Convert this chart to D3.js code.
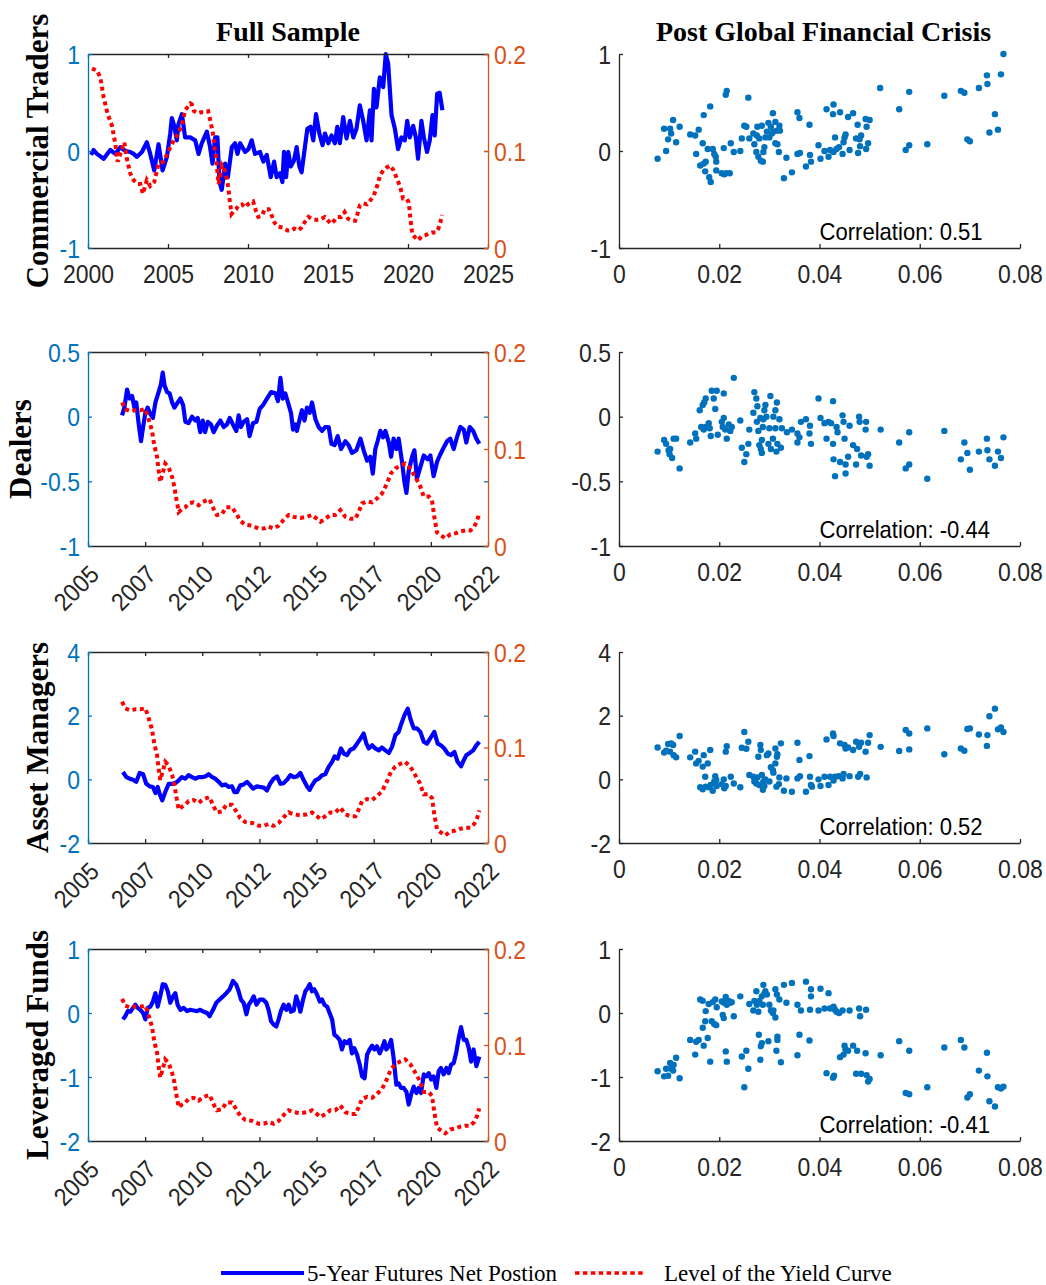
<!DOCTYPE html>
<html><head><meta charset="utf-8">
<script src="https://cdn.jsdelivr.net/npm/d3@7"></script>
<style>body{margin:0;background:#fff;} svg{display:block;}</style>
</head><body>
<svg id="chart" width="1046" height="1285"></svg>
<script>
// ---------------- DATA ----------------
const panelTitles = ["Full Sample", "Post Global Financial Crisis"];
const rowNames = ["Commercial Traders", "Dealers", "Asset Managers", "Leveraged Funds"];
const correlations = ["0.51", "-0.44", "0.52", "-0.41"];
const legendLabels = ["5-Year Futures Net Postion", "Level of the Yield Curve"];

const leftTicksCT = [-1, 0, 1];
const leftTicksDealers = [-1, -0.5, 0, 0.5];
const leftTicksAM = [-2, 0, 2, 4];
const leftTicksLF = [-2, -1, 0, 1];
const rightTicks = [0, 0.1, 0.2];
const scatterXTicks = [0, 0.02, 0.04, 0.06, 0.08];
const fullYearTicks = [2000, 2005, 2010, 2015, 2020, 2025];
const tffYearTicks = [2005, 2007.5, 2010, 2012.5, 2015, 2017.5, 2020, 2022.5];

// [decimal year, net position]
const commercialNet = [[2000.19,-0.04],[2000.35,0.01],[2000.56,-0.03],[2000.98,-0.08],[2001.39,0.01],[2001.71,-0.03],[2002.02,0.04],[2002.33,0.0],[2002.64,-0.01],[2002.85,-0.03],[2003.06,-0.06],[2003.37,-0.01],[2003.68,0.09],[2003.89,-0.03],[2004.14,-0.2],[2004.41,0.07],[2004.66,-0.2],[2004.93,-0.06],[2005.14,0.18],[2005.24,0.34],[2005.39,0.26],[2005.55,0.11],[2005.66,0.28],[2005.87,0.38],[2006.07,0.14],[2006.39,0.14],[2006.70,0.11],[2006.91,-0.03],[2007.11,0.08],[2007.43,0.2],[2007.63,0.04],[2007.78,-0.13],[2007.95,0.14],[2008.09,0.14],[2008.22,-0.32],[2008.36,-0.4],[2008.57,-0.13],[2008.74,-0.27],[2008.99,0.04],[2009.19,0.08],[2009.34,-0.03],[2009.51,0.08],[2009.82,-0.01],[2010.03,0.02],[2010.23,0.11],[2010.44,-0.03],[2010.75,-0.01],[2010.96,-0.11],[2011.17,-0.04],[2011.42,-0.27],[2011.63,-0.11],[2011.79,-0.27],[2012.00,-0.23],[2012.15,-0.32],[2012.25,-0.01],[2012.38,-0.27],[2012.52,-0.01],[2012.67,-0.16],[2012.87,-0.1],[2013.04,0.04],[2013.21,-0.16],[2013.35,-0.22],[2013.50,-0.03],[2013.71,0.23],[2013.91,0.25],[2014.08,0.11],[2014.25,0.38],[2014.46,0.18],[2014.66,0.06],[2014.81,0.18],[2015.02,0.08],[2015.22,0.16],[2015.43,0.08],[2015.58,0.25],[2015.74,0.08],[2015.95,0.35],[2016.16,0.13],[2016.37,0.31],[2016.58,0.14],[2016.78,0.23],[2016.99,0.47],[2017.20,0.31],[2017.41,0.11],[2017.62,0.42],[2017.72,0.11],[2017.87,0.64],[2018.03,0.45],[2018.24,0.76],[2018.45,0.66],[2018.61,1.0],[2018.76,0.9],[2018.97,0.37],[2019.18,0.23],[2019.38,0.02],[2019.59,0.14],[2019.80,0.11],[2019.95,0.31],[2020.11,0.14],[2020.32,0.26],[2020.49,0.14],[2020.63,-0.08],[2020.84,0.31],[2020.99,0.14],[2021.19,-0.01],[2021.36,0.11],[2021.53,0.37],[2021.67,0.16],[2021.82,0.59],[2021.98,0.6],[2022.15,0.42]];

const dealersNet = [[2006.49,0.01],[2006.59,0.07],[2006.71,0.21],[2006.82,0.14],[2006.93,0.16],[2007.03,0.07],[2007.11,0.11],[2007.22,-0.06],[2007.32,-0.19],[2007.41,-0.08],[2007.51,0.03],[2007.61,0.07],[2007.73,0.02],[2007.84,-0.01],[2007.95,0.11],[2008.09,0.19],[2008.19,0.25],[2008.27,0.34],[2008.35,0.24],[2008.46,0.19],[2008.57,0.18],[2008.68,0.11],[2008.78,0.07],[2008.89,0.1],[2009.04,0.14],[2009.16,0.09],[2009.26,-0.04],[2009.40,-0.05],[2009.55,0.0],[2009.70,-0.03],[2009.80,-0.01],[2009.91,-0.12],[2010.02,-0.03],[2010.12,-0.12],[2010.24,-0.04],[2010.38,-0.06],[2010.50,-0.12],[2010.64,-0.07],[2010.79,-0.03],[2010.94,-0.08],[2011.08,-0.06],[2011.20,-0.01],[2011.34,-0.06],[2011.49,-0.11],[2011.59,0.01],[2011.69,-0.08],[2011.81,-0.04],[2011.96,-0.02],[2012.07,-0.15],[2012.22,-0.05],[2012.37,-0.04],[2012.51,0.06],[2012.66,0.09],[2012.83,0.14],[2013.01,0.19],[2013.20,0.18],[2013.31,0.12],[2013.42,0.3],[2013.52,0.14],[2013.63,0.18],[2013.78,0.09],[2013.88,0.03],[2013.97,-0.1],[2014.07,-0.06],[2014.14,-0.11],[2014.26,-0.02],[2014.36,0.05],[2014.47,-0.03],[2014.58,0.07],[2014.70,0.03],[2014.80,0.11],[2014.95,-0.02],[2015.09,-0.08],[2015.24,-0.11],[2015.38,-0.08],[2015.53,-0.08],[2015.65,-0.21],[2015.79,-0.22],[2015.92,-0.15],[2016.07,-0.25],[2016.26,-0.19],[2016.40,-0.22],[2016.55,-0.28],[2016.74,-0.26],[2016.92,-0.17],[2017.06,-0.26],[2017.21,-0.34],[2017.35,-0.31],[2017.46,-0.44],[2017.57,-0.25],[2017.67,-0.19],[2017.79,-0.11],[2017.91,-0.16],[2018.01,-0.11],[2018.16,-0.2],[2018.26,-0.31],[2018.37,-0.17],[2018.49,-0.25],[2018.59,-0.17],[2018.74,-0.35],[2018.84,-0.5],[2018.93,-0.59],[2019.03,-0.42],[2019.18,-0.31],[2019.28,-0.26],[2019.39,-0.48],[2019.54,-0.39],[2019.69,-0.3],[2019.86,-0.33],[2019.98,-0.3],[2020.12,-0.46],[2020.27,-0.35],[2020.39,-0.3],[2020.53,-0.25],[2020.71,-0.19],[2020.85,-0.17],[2021.00,-0.25],[2021.14,-0.16],[2021.29,-0.08],[2021.44,-0.1],[2021.55,-0.2],[2021.70,-0.08],[2021.85,-0.11],[2021.99,-0.17],[2022.12,-0.21]];

const assetMgrNet = [[2006.53,0.23],[2006.68,0.07],[2006.82,0.02],[2006.97,-0.01],[2007.11,-0.08],[2007.26,0.2],[2007.41,0.16],[2007.55,-0.14],[2007.70,-0.22],[2007.84,-0.24],[2007.95,-0.43],[2008.05,-0.24],[2008.14,-0.47],[2008.25,-0.66],[2008.38,-0.4],[2008.53,-0.14],[2008.68,-0.14],[2008.82,-0.12],[2008.97,-0.03],[2009.11,0.07],[2009.26,0.02],[2009.40,0.13],[2009.55,0.07],[2009.70,0.02],[2009.84,0.07],[2009.99,0.07],[2010.13,0.09],[2010.28,0.16],[2010.43,0.07],[2010.57,0.02],[2010.72,-0.08],[2010.86,-0.19],[2011.01,-0.16],[2011.15,-0.24],[2011.30,-0.22],[2011.40,-0.4],[2011.52,-0.4],[2011.66,-0.19],[2011.81,-0.16],[2011.96,-0.08],[2012.10,-0.19],[2012.22,-0.29],[2012.39,-0.22],[2012.54,-0.24],[2012.69,-0.26],[2012.83,-0.35],[2012.98,-0.12],[2013.12,0.02],[2013.27,0.09],[2013.42,-0.14],[2013.56,-0.12],[2013.71,-0.01],[2013.85,0.13],[2014.00,0.07],[2014.14,0.09],[2014.29,0.2],[2014.44,-0.03],[2014.58,-0.22],[2014.70,-0.33],[2014.80,-0.19],[2014.95,-0.03],[2015.09,0.02],[2015.24,0.13],[2015.38,0.16],[2015.53,0.39],[2015.68,0.55],[2015.79,0.72],[2015.92,0.65],[2016.07,0.97],[2016.19,0.81],[2016.33,0.76],[2016.48,0.93],[2016.62,0.97],[2016.77,1.12],[2016.92,1.28],[2017.06,1.44],[2017.18,1.12],[2017.28,0.97],[2017.43,1.07],[2017.57,0.97],[2017.72,0.91],[2017.86,1.0],[2018.01,0.91],[2018.16,0.83],[2018.30,1.02],[2018.45,1.39],[2018.59,1.49],[2018.71,1.75],[2018.84,2.01],[2018.99,2.22],[2019.10,1.91],[2019.25,1.6],[2019.39,1.6],[2019.54,1.49],[2019.69,1.18],[2019.83,1.12],[2020.01,1.33],[2020.15,1.49],[2020.30,1.12],[2020.44,1.07],[2020.59,0.97],[2020.74,0.81],[2020.88,0.76],[2021.03,0.86],[2021.17,0.55],[2021.32,0.41],[2021.44,0.6],[2021.55,0.76],[2021.70,0.83],[2021.85,0.91],[2021.99,1.07],[2022.12,1.18]];

const levFundsNet = [[2006.53,-0.1],[2006.63,-0.05],[2006.74,0.03],[2006.85,0.02],[2006.97,0.08],[2007.07,0.13],[2007.17,0.08],[2007.29,0.05],[2007.41,0.0],[2007.51,-0.1],[2007.61,0.08],[2007.73,0.1],[2007.84,0.18],[2007.95,0.31],[2008.05,0.1],[2008.16,0.26],[2008.27,0.45],[2008.38,0.44],[2008.49,0.34],[2008.60,0.16],[2008.72,0.26],[2008.82,0.31],[2008.92,0.13],[2009.04,0.05],[2009.19,0.08],[2009.33,0.03],[2009.48,0.05],[2009.62,0.04],[2009.77,0.03],[2009.91,0.05],[2010.06,0.02],[2010.21,0.0],[2010.32,-0.05],[2010.47,0.05],[2010.61,0.16],[2010.76,0.21],[2010.91,0.26],[2011.05,0.31],[2011.20,0.37],[2011.34,0.5],[2011.49,0.44],[2011.59,0.34],[2011.69,0.21],[2011.81,0.16],[2011.93,-0.02],[2012.03,0.13],[2012.13,0.18],[2012.25,0.26],[2012.37,0.13],[2012.51,0.21],[2012.66,0.21],[2012.80,0.16],[2012.90,0.05],[2013.01,-0.13],[2013.12,-0.18],[2013.24,-0.21],[2013.34,-0.1],[2013.44,0.03],[2013.56,0.13],[2013.68,0.05],[2013.78,0.13],[2013.88,0.02],[2014.00,0.04],[2014.11,0.26],[2014.22,0.13],[2014.29,0.02],[2014.41,0.21],[2014.51,0.34],[2014.61,0.39],[2014.70,0.45],[2014.80,0.34],[2014.90,0.37],[2015.02,0.29],[2015.14,0.18],[2015.24,0.21],[2015.34,0.13],[2015.46,0.1],[2015.57,0.0],[2015.68,-0.1],[2015.78,-0.34],[2015.89,-0.37],[2016.01,-0.42],[2016.11,-0.57],[2016.22,-0.44],[2016.33,-0.47],[2016.45,-0.42],[2016.55,-0.63],[2016.65,-0.55],[2016.77,-0.65],[2016.89,-0.81],[2016.99,-0.99],[2017.10,-1.02],[2017.21,-0.65],[2017.32,-0.57],[2017.43,-0.51],[2017.53,-0.57],[2017.64,-0.52],[2017.76,-0.63],[2017.86,-0.55],[2017.97,-0.44],[2018.05,-0.57],[2018.16,-0.52],[2018.26,-0.42],[2018.37,-0.7],[2018.49,-1.12],[2018.59,-1.1],[2018.69,-1.17],[2018.81,-1.17],[2018.93,-1.23],[2019.03,-1.43],[2019.13,-1.28],[2019.25,-1.15],[2019.37,-1.25],[2019.47,-1.17],[2019.57,-1.25],[2019.69,-0.96],[2019.80,-0.99],[2019.91,-0.94],[2020.01,-1.04],[2020.12,-0.99],[2020.24,-1.17],[2020.34,-0.91],[2020.44,-0.86],[2020.56,-0.96],[2020.68,-0.86],[2020.78,-0.94],[2020.88,-0.81],[2021.00,-0.78],[2021.12,-0.6],[2021.22,-0.39],[2021.32,-0.22],[2021.44,-0.42],[2021.55,-0.42],[2021.66,-0.55],[2021.76,-0.76],[2021.87,-0.57],[2021.99,-0.83],[2022.12,-0.68]];

// [decimal year, level of the yield curve]
const yieldLevel = [[2000.25,0.185],[2000.56,0.183],[2000.77,0.176],[2000.98,0.155],[2001.23,0.138],[2001.50,0.126],[2001.71,0.107],[2001.85,0.089],[2002.06,0.099],[2002.27,0.109],[2002.43,0.092],[2002.64,0.077],[2002.85,0.07],[2003.10,0.066],[2003.27,0.066],[2003.43,0.056],[2003.68,0.07],[2003.89,0.064],[2004.14,0.068],[2004.41,0.087],[2004.72,0.089],[2005.03,0.1],[2005.30,0.109],[2005.55,0.116],[2005.87,0.126],[2006.07,0.142],[2006.39,0.149],[2006.49,0.148],[2006.63,0.141],[2006.85,0.139],[2007.07,0.14],[2007.29,0.14],[2007.51,0.141],[2007.65,0.131],[2007.80,0.119],[2007.90,0.104],[2008.02,0.092],[2008.09,0.078],[2008.16,0.066],[2008.27,0.075],[2008.38,0.085],[2008.53,0.081],[2008.68,0.071],[2008.78,0.061],[2008.86,0.049],[2008.97,0.035],[2009.11,0.038],[2009.26,0.04],[2009.40,0.044],[2009.62,0.045],[2009.84,0.042],[2009.99,0.045],[2010.18,0.047],[2010.32,0.048],[2010.50,0.038],[2010.64,0.032],[2010.86,0.033],[2011.05,0.04],[2011.30,0.04],[2011.52,0.032],[2011.66,0.026],[2011.88,0.022],[2012.18,0.021],[2012.47,0.018],[2012.69,0.018],[2012.90,0.02],[2013.12,0.018],[2013.34,0.021],[2013.56,0.027],[2013.78,0.032],[2014.00,0.03],[2014.29,0.029],[2014.58,0.03],[2014.80,0.032],[2015.02,0.028],[2015.17,0.025],[2015.38,0.028],[2015.60,0.032],[2015.82,0.032],[2016.04,0.037],[2016.26,0.03],[2016.48,0.028],[2016.70,0.028],[2016.84,0.035],[2016.99,0.044],[2017.21,0.046],[2017.43,0.045],[2017.64,0.049],[2017.86,0.054],[2018.05,0.063],[2018.26,0.075],[2018.45,0.08],[2018.67,0.083],[2018.88,0.085],[2019.10,0.08],[2019.32,0.071],[2019.51,0.063],[2019.69,0.051],[2019.91,0.051],[2020.05,0.047],[2020.15,0.03],[2020.27,0.014],[2020.44,0.011],[2020.63,0.008],[2020.85,0.012],[2021.07,0.013],[2021.29,0.015],[2021.51,0.016],[2021.73,0.016],[2021.90,0.02],[2022.02,0.026],[2022.12,0.034]];

// post-GFC scatter: [yield level, net position]
const commercialScatter = [[0.0077,-0.08],[0.0094,0.0],[0.009,0.23],[0.0102,0.23],[0.0108,0.32],[0.0098,0.12],[0.0104,0.18],[0.0114,0.09],[0.0121,0.25],[0.0142,0.17],[0.0152,0.16],[0.0154,-0.03],[0.0159,0.22],[0.0169,0.37],[0.0167,0.08],[0.0182,0.46],[0.0162,-0.15],[0.0169,-0.13],[0.0173,-0.11],[0.0172,-0.21],[0.0177,0.02],[0.018,-0.27],[0.0183,-0.32],[0.0187,0.02],[0.019,-0.03],[0.0193,-0.06],[0.0194,-0.11],[0.0194,-0.2],[0.0209,0.03],[0.0205,-0.23],[0.021,-0.24],[0.0214,-0.23],[0.0221,-0.23],[0.0213,0.58],[0.0215,0.62],[0.0223,0.08],[0.0229,-0.01],[0.0242,0.0],[0.0245,0.13],[0.025,0.26],[0.0254,0.25],[0.0258,0.55],[0.026,0.13],[0.0268,0.18],[0.027,0.07],[0.0274,-0.01],[0.0275,0.16],[0.0276,0.25],[0.0278,-0.06],[0.028,0.13],[0.0283,-0.1],[0.0285,0.26],[0.0287,-0.11],[0.0288,-0.01],[0.029,0.04],[0.0292,0.14],[0.0295,0.2],[0.0298,0.29],[0.03,0.14],[0.0303,0.25],[0.0305,0.18],[0.0307,0.39],[0.0308,0.2],[0.0312,0.3],[0.0312,0.08],[0.0316,0.07],[0.0315,0.21],[0.0319,-0.01],[0.032,0.26],[0.0321,0.21],[0.0329,-0.28],[0.0334,-0.07],[0.0345,-0.22],[0.0356,0.4],[0.036,0.34],[0.0356,-0.03],[0.0361,-0.02],[0.0373,-0.16],[0.038,0.27],[0.0381,-0.04],[0.0383,-0.11],[0.0398,0.06],[0.0402,-0.08],[0.041,0.0],[0.0414,0.43],[0.0418,-0.06],[0.0421,0.01],[0.0427,0.38],[0.0428,0.48],[0.0428,-0.01],[0.0431,0.14],[0.0434,0.02],[0.0439,0.04],[0.0441,0.4],[0.0446,-0.03],[0.0448,0.09],[0.045,0.14],[0.0452,0.17],[0.0457,0.35],[0.046,0.01],[0.0467,0.39],[0.0473,0.13],[0.0476,0.27],[0.0477,-0.02],[0.048,0.12],[0.0481,0.05],[0.0483,0.16],[0.0492,0.33],[0.0494,0.25],[0.0493,0.02],[0.0497,0.08],[0.05,0.32],[0.0521,0.65],[0.0559,0.43],[0.0572,0.01],[0.0579,0.06],[0.0579,0.61],[0.0615,0.07],[0.0649,0.57],[0.0682,0.62],[0.0689,0.6],[0.0695,0.12],[0.07,0.1],[0.0718,0.65],[0.0734,0.78],[0.0735,0.69],[0.0739,0.19],[0.075,0.38],[0.0756,0.22],[0.0762,0.79],[0.0767,1.0]];

const dealersScatter = [[0.0077,-0.27],[0.009,-0.18],[0.0094,-0.21],[0.0099,-0.26],[0.0102,-0.25],[0.0101,-0.29],[0.0106,-0.32],[0.0109,-0.17],[0.0114,-0.17],[0.0121,-0.40],[0.0142,-0.20],[0.0152,-0.13],[0.0154,-0.17],[0.0161,0.05],[0.0164,-0.08],[0.0167,0.09],[0.017,0.11],[0.0173,0.14],[0.0169,-0.10],[0.0173,-0.08],[0.0179,-0.05],[0.0181,-0.09],[0.0183,-0.15],[0.0185,0.20],[0.0189,0.14],[0.0192,0.06],[0.0195,0.20],[0.0197,-0.14],[0.0205,-0.04],[0.0209,-0.01],[0.0209,0.18],[0.0207,-0.08],[0.0212,-0.10],[0.0215,-0.17],[0.0219,-0.06],[0.0222,-0.11],[0.0225,-0.08],[0.0229,0.30],[0.0242,-0.03],[0.0245,-0.24],[0.025,-0.35],[0.0254,-0.29],[0.0258,-0.21],[0.026,-0.10],[0.0268,0.03],[0.027,0.19],[0.0274,0.14],[0.0275,-0.04],[0.0276,0.08],[0.0278,-0.11],[0.028,-0.22],[0.0282,-0.01],[0.0283,-0.25],[0.0285,-0.18],[0.0285,-0.28],[0.0287,-0.08],[0.0288,-0.02],[0.029,0.05],[0.0292,0.09],[0.0294,0.0],[0.0298,-0.21],[0.03,-0.09],[0.0302,0.16],[0.0303,-0.25],[0.0307,-0.17],[0.0308,0.0],[0.0312,0.05],[0.0312,-0.09],[0.0314,-0.27],[0.0315,0.11],[0.0316,-0.21],[0.032,-0.02],[0.0323,-0.24],[0.0325,-0.09],[0.0335,-0.12],[0.0345,-0.10],[0.0356,-0.13],[0.0356,-0.20],[0.036,-0.16],[0.0363,-0.04],[0.0373,-0.02],[0.038,-0.13],[0.0381,-0.07],[0.0383,-0.21],[0.0398,0.14],[0.0402,-0.01],[0.041,-0.05],[0.0414,-0.17],[0.0418,-0.04],[0.0423,-0.05],[0.0427,0.12],[0.0427,-0.21],[0.0428,-0.33],[0.0431,-0.46],[0.0434,-0.08],[0.0436,-0.12],[0.0441,-0.35],[0.0446,0.01],[0.0448,-0.04],[0.045,-0.17],[0.0452,-0.37],[0.0452,-0.44],[0.0457,-0.31],[0.046,-0.07],[0.0467,-0.22],[0.0473,-0.37],[0.0475,-0.25],[0.0479,0.0],[0.048,-0.04],[0.0483,-0.30],[0.0492,-0.10],[0.0493,-0.04],[0.0494,-0.31],[0.0497,-0.29],[0.05,-0.38],[0.0522,-0.10],[0.0559,-0.20],[0.0572,-0.40],[0.0579,-0.12],[0.0579,-0.37],[0.0615,-0.48],[0.0649,-0.11],[0.0682,-0.33],[0.0689,-0.20],[0.0695,-0.28],[0.07,-0.41],[0.0718,-0.27],[0.0734,-0.17],[0.0735,-0.26],[0.0739,-0.33],[0.075,-0.38],[0.0756,-0.27],[0.0762,-0.32],[0.0767,-0.16]];

const assetMgrScatter = [[0.0077,1.0],[0.009,0.84],[0.0094,0.9],[0.0098,1.11],[0.0104,1.13],[0.0108,1.08],[0.0102,0.87],[0.0109,0.76],[0.0114,0.69],[0.0121,1.36],[0.0142,0.69],[0.0152,0.87],[0.0154,0.5],[0.0159,0.58],[0.0169,0.76],[0.0167,0.4],[0.0177,0.5],[0.0182,0.92],[0.0162,-0.25],[0.0167,-0.31],[0.0172,0.08],[0.0173,-0.23],[0.0179,-0.25],[0.0183,-0.18],[0.0187,-0.36],[0.019,-0.07],[0.0192,0.1],[0.0194,-0.02],[0.0195,-0.21],[0.0205,-0.15],[0.0209,0.0],[0.021,-0.28],[0.0213,-0.21],[0.0213,0.87],[0.0215,1.04],[0.0223,0.08],[0.0229,-0.13],[0.0242,-0.25],[0.0245,0.99],[0.025,1.49],[0.0254,0.96],[0.0258,1.18],[0.026,0.14],[0.0268,0.08],[0.027,-0.07],[0.0274,-0.13],[0.0276,0.06],[0.0278,0.71],[0.028,-0.18],[0.0282,1.08],[0.0283,0.92],[0.0285,0.14],[0.0287,-0.33],[0.0288,-0.07],[0.029,-0.21],[0.0292,0.0],[0.0295,0.76],[0.0298,0.81],[0.03,-0.07],[0.0303,0.38],[0.0307,0.29],[0.0308,0.21],[0.0312,0.5],[0.0312,0.97],[0.0315,0.71],[0.0316,0.79],[0.0314,-0.23],[0.0319,-0.15],[0.032,0.06],[0.0323,1.13],[0.0329,-0.36],[0.0334,0.03],[0.0345,-0.39],[0.0356,1.15],[0.036,0.61],[0.0356,0.03],[0.0361,0.1],[0.0373,-0.39],[0.038,0.73],[0.0381,0.08],[0.0383,-0.18],[0.0385,-0.23],[0.0398,0.0],[0.0402,-0.21],[0.041,0.08],[0.0414,1.25],[0.0418,-0.18],[0.0421,0.08],[0.0427,1.44],[0.0428,1.36],[0.0428,-0.04],[0.0431,0.08],[0.0438,0.1],[0.0441,1.13],[0.0446,0.03],[0.0448,0.17],[0.045,1.08],[0.0452,0.97],[0.0457,1.0],[0.046,0.1],[0.0467,0.92],[0.0473,1.18],[0.0477,0.08],[0.0479,1.02],[0.0481,0.17],[0.0483,1.15],[0.0492,0.87],[0.0494,0.06],[0.0497,1.15],[0.05,1.39],[0.0522,1.02],[0.0559,0.89],[0.0572,1.55],[0.0579,1.44],[0.0579,0.94],[0.0615,1.6],[0.0649,0.79],[0.0682,0.97],[0.0689,0.9],[0.0695,1.58],[0.07,1.6],[0.0718,1.41],[0.0734,1.05],[0.0735,1.39],[0.0739,1.98],[0.075,2.22],[0.0756,1.57],[0.0762,1.63],[0.0767,1.49]];

const levFundsScatter = [[0.0077,-0.91],[0.009,-0.99],[0.0094,-0.87],[0.0098,-0.98],[0.0102,-0.78],[0.0104,-0.87],[0.0106,-0.83],[0.0109,-0.81],[0.0108,-0.9],[0.0114,-0.7],[0.0121,-1.02],[0.0142,-0.42],[0.0152,-0.65],[0.0154,-0.45],[0.0159,-0.42],[0.0162,0.21],[0.0167,0.19],[0.0169,-0.51],[0.0167,-0.23],[0.0172,-0.13],[0.0173,0.03],[0.0177,-0.39],[0.0179,0.14],[0.0182,-0.76],[0.0185,-0.13],[0.0187,0.17],[0.019,-0.17],[0.0192,0.21],[0.0194,-0.19],[0.0195,0.09],[0.0205,0.18],[0.0207,-0.03],[0.0209,-0.08],[0.021,0.16],[0.0213,-0.6],[0.0213,0.25],[0.0215,-0.76],[0.0215,0.13],[0.0219,0.19],[0.0222,0.16],[0.0225,0.17],[0.0229,-0.05],[0.0242,0.26],[0.0245,-0.68],[0.025,-1.16],[0.0254,-0.59],[0.0258,-0.87],[0.026,0.14],[0.0268,0.04],[0.027,0.19],[0.0274,0.34],[0.0275,0.13],[0.0278,0.02],[0.0279,-0.34],[0.028,0.19],[0.0282,-0.73],[0.0283,-0.52],[0.0285,-0.47],[0.0285,0.26],[0.0287,0.13],[0.0288,0.44],[0.029,0.3],[0.0292,0.34],[0.0295,0.29],[0.0298,-0.44],[0.03,0.13],[0.0303,0.04],[0.0307,0.0],[0.0308,0.04],[0.0312,-0.07],[0.0312,0.37],[0.0314,-0.59],[0.0315,0.29],[0.0316,-0.42],[0.0316,-0.37],[0.032,0.21],[0.0323,-0.77],[0.0329,0.44],[0.0334,0.16],[0.0345,0.47],[0.0356,0.13],[0.0356,-0.66],[0.036,-0.34],[0.0363,0.04],[0.0373,0.49],[0.038,-0.43],[0.0381,0.05],[0.0383,0.37],[0.0383,0.26],[0.0398,0.04],[0.0402,0.38],[0.041,0.07],[0.0414,-0.94],[0.0418,0.31],[0.0421,0.07],[0.0427,-1.01],[0.0428,0.1],[0.0429,-0.98],[0.0431,0.05],[0.0434,0.02],[0.0439,0.0],[0.0441,-0.69],[0.0446,0.04],[0.0448,-0.65],[0.045,-0.51],[0.0452,-0.57],[0.0457,-0.59],[0.046,0.04],[0.0467,-0.51],[0.0473,-0.95],[0.0475,-0.59],[0.0479,0.07],[0.0481,-0.05],[0.0483,-0.95],[0.0492,-0.63],[0.0493,0.05],[0.0494,-0.97],[0.0497,-1.07],[0.05,-1.03],[0.0522,-0.66],[0.0559,-0.44],[0.0572,-1.25],[0.0579,-1.27],[0.0579,-0.59],[0.0615,-1.16],[0.0649,-0.54],[0.0682,-0.42],[0.0689,-0.54],[0.0695,-1.32],[0.07,-1.27],[0.0718,-0.9],[0.0734,-0.62],[0.0735,-0.99],[0.0739,-1.38],[0.075,-1.46],[0.0756,-1.16],[0.0762,-1.18],[0.0767,-1.15]];

// ---------------- LAYOUT / STYLE ----------------
const SANS = "'Liberation Sans', Arial, Helvetica, sans-serif";
const SERIF = "'Liberation Serif', 'Times New Roman', Times, serif";
const AX_BLUE = "#0072BD", AX_ORANGE = "#D95319", DARK = "#262626";
const LINE_BLUE = "#0000FF", LINE_RED = "#FF0000";
const TICK_FS = 25, SQUEEZE = 0.92;
const L0 = 88, L1 = 488, R0 = 619, R1 = 1020;

const rows = [
  {top: 54, bottom: 248, net: commercialNet, scatter: commercialScatter, xDomain: [2000, 2025], xTicks: fullYearTicks, rotate: false, yTicks: leftTicksCT, ylabelX: 48, yieldStart: 1999},
  {top: 352, bottom: 546, net: dealersNet, scatter: dealersScatter, xDomain: [2005, 2022.5], xTicks: tffYearTicks, rotate: true, yTicks: leftTicksDealers, ylabelX: 31, yieldStart: 2006.45},
  {top: 652, bottom: 843, net: assetMgrNet, scatter: assetMgrScatter, xDomain: [2005, 2022.5], xTicks: tffYearTicks, rotate: true, yTicks: leftTicksAM, ylabelX: 48, yieldStart: 2006.45},
  {top: 949, bottom: 1141, net: levFundsNet, scatter: levFundsScatter, xDomain: [2005, 2022.5], xTicks: tffYearTicks, rotate: true, yTicks: leftTicksLF, ylabelX: 48, yieldStart: 2006.45}
];

const svg = d3.select("#chart");
const fmt = d => String(d);

// orient: "bottom" | "rot" | "left" | "right" | "none"
function styleAxis(g, color, showDomain, orient) {
  g.attr("font-family", SANS).attr("font-size", TICK_FS);
  g.select("path.domain").attr("stroke", showDomain ? color : "none").attr("stroke-width", 1.3);
  g.selectAll(".tick line").attr("stroke", color).attr("stroke-width", 1.3);
  const t = g.selectAll(".tick text").attr("fill", color).attr("x", 0).attr("y", 0).attr("dy", null);
  if (orient === "bottom") t.attr("text-anchor", "middle").attr("transform", `translate(0,35) scale(${SQUEEZE},1)`);
  if (orient === "rot") t.attr("text-anchor", "end").attr("transform", `translate(12,30) rotate(-45) scale(${SQUEEZE},1)`);
  if (orient === "left") t.attr("text-anchor", "end").attr("transform", `translate(-8,9) scale(${SQUEEZE},1)`);
  if (orient === "right") t.attr("text-anchor", "start").attr("transform", `translate(6,9) scale(${SQUEEZE},1)`);
}

rows.forEach((row, i) => {
  // ---------- left: time series ----------
  const x = d3.scaleLinear().domain(row.xDomain).range([L0, L1]);
  const yL = d3.scaleLinear().domain(d3.extent(row.yTicks)).range([row.bottom, row.top]);
  const yR = d3.scaleLinear().domain([0, 0.2]).range([row.bottom, row.top]);

  svg.append("path").datum(row.net)
    .attr("d", d3.line().x(d => x(d[0])).y(d => yL(d[1])))
    .attr("fill", "none").attr("stroke", LINE_BLUE).attr("stroke-width", 4.2)
    .attr("stroke-linejoin", "round");

  svg.append("path").datum(yieldLevel.filter(d => d[0] >= row.yieldStart))
    .attr("d", d3.line().x(d => x(d[0])).y(d => yR(d[1])))
    .attr("fill", "none").attr("stroke", LINE_RED).attr("stroke-width", 4)
    .attr("stroke-dasharray", "4,3.5");

  const gb = svg.append("g").attr("transform", `translate(0,${row.bottom})`)
    .call(d3.axisBottom(x).tickValues(row.xTicks).tickSizeInner(-4).tickSizeOuter(0)
      .tickFormat(d => String(Math.floor(d))));
  styleAxis(gb, DARK, true, row.rotate ? "rot" : "bottom");

  const gt = svg.append("g").attr("transform", `translate(0,${row.top})`)
    .call(d3.axisTop(x).tickValues(row.xTicks).tickSizeInner(-4).tickSizeOuter(0).tickFormat(""));
  styleAxis(gt, DARK, true, "none");

  const gr2 = svg.append("g").attr("transform", `translate(${L1},0)`)
    .call(d3.axisRight(yL).tickValues(row.yTicks).tickSizeInner(-4).tickSizeOuter(0).tickFormat(""));
  styleAxis(gr2, AX_BLUE, false, "none");

  const gl = svg.append("g").attr("transform", `translate(${L0},0)`)
    .call(d3.axisLeft(yL).tickValues(row.yTicks).tickSizeInner(-4).tickSizeOuter(0).tickFormat(fmt));
  styleAxis(gl, AX_BLUE, true, "left");

  const gr = svg.append("g").attr("transform", `translate(${L1},0)`)
    .call(d3.axisRight(yR).tickValues(rightTicks).tickSizeInner(-4).tickSizeOuter(0).tickFormat(fmt));
  styleAxis(gr, AX_ORANGE, true, "right");

  svg.append("text")
    .attr("transform", `translate(${row.ylabelX},${(row.top + row.bottom) / 2}) rotate(-90)`)
    .attr("text-anchor", "middle").attr("font-family", SERIF).attr("font-weight", "bold")
    .attr("font-size", 31).attr("fill", "#000").text(rowNames[i]);

  // ---------- right: scatter ----------
  const sx = d3.scaleLinear().domain([0, 0.08]).range([R0, R1]);
  const sy = d3.scaleLinear().domain(d3.extent(row.yTicks)).range([row.bottom, row.top]);

  svg.append("g").selectAll("circle").data(row.scatter).join("circle")
    .attr("cx", d => sx(d[0])).attr("cy", d => sy(d[1])).attr("r", 3.2)
    .attr("fill", AX_BLUE);

  const sb = svg.append("g").attr("transform", `translate(0,${row.bottom})`)
    .call(d3.axisBottom(sx).tickValues(scatterXTicks).tickSizeInner(-4).tickSizeOuter(0).tickFormat(fmt));
  styleAxis(sb, DARK, true, "bottom");
  const sl = svg.append("g").attr("transform", `translate(${R0},0)`)
    .call(d3.axisLeft(sy).tickValues(row.yTicks).tickSizeInner(-4).tickSizeOuter(0).tickFormat(fmt));
  styleAxis(sl, DARK, true, "left");

  svg.append("text")
    .attr("transform", `translate(${sx(0.04)},${row.bottom - 8}) scale(${SQUEEZE},1)`)
    .attr("font-family", SANS).attr("font-size", 24).attr("fill", "#000")
    .text("Correlation: " + correlations[i]);
});

// titles
svg.append("text").attr("x", (L0 + L1) / 2).attr("y", 41).attr("text-anchor", "middle")
  .attr("font-family", SERIF).attr("font-weight", "bold").attr("font-size", 28).text(panelTitles[0]);
svg.append("text").attr("x", (R0 + R1) / 2 + 4).attr("y", 41).attr("text-anchor", "middle")
  .attr("font-family", SERIF).attr("font-weight", "bold").attr("font-size", 28).text(panelTitles[1]);

// legend
const legY = 1273;
svg.append("line").attr("x1", 221).attr("x2", 304).attr("y1", legY).attr("y2", legY)
  .attr("stroke", LINE_BLUE).attr("stroke-width", 4);
svg.append("text").attr("x", 307).attr("y", legY + 8).attr("font-family", SERIF)
  .attr("font-size", 23).attr("fill", "#000").text(legendLabels[0]);
svg.append("line").attr("x1", 575).attr("x2", 646).attr("y1", legY).attr("y2", legY)
  .attr("stroke", LINE_RED).attr("stroke-width", 3.6).attr("stroke-dasharray", "4.5,3.4");
svg.append("text").attr("x", 664).attr("y", legY + 8).attr("font-family", SERIF)
  .attr("font-size", 23).attr("fill", "#000").text(legendLabels[1]);
</script>
</body></html>
